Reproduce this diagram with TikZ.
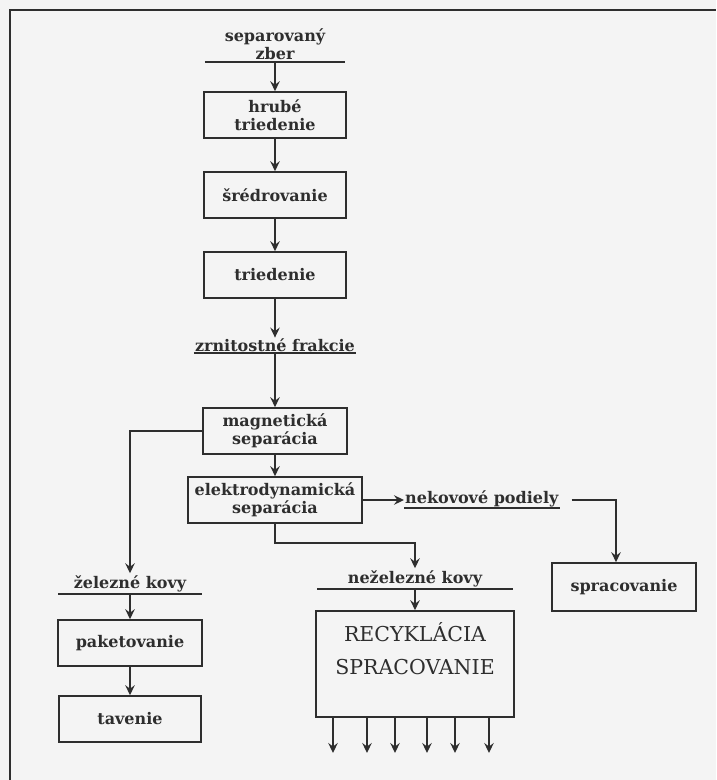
\documentclass[tikz,border=0pt]{standalone}
\usepackage{fontspec}
\setmainfont{DejaVu Serif}
\usetikzlibrary{arrows.meta, positioning}

\definecolor{ink}{HTML}{2E2E2E}
\definecolor{paper}{HTML}{F4F4F4}

\tikzset{
  flow/.style={draw=ink, line width=1.6pt},
  arr/.style={flow, -{Stealth[length=10pt, width=9.5pt, inset=3.5pt]}},
  box/.style={draw=ink, line width=1.6pt, text=ink, align=center,
    minimum width=142pt, minimum height=46pt, inner sep=2pt,
    font=\bfseries\fontsize{16}{18.5}\selectfont},
  word/.style={text=ink, align=center, inner sep=2pt,
    font=\bfseries\fontsize{16}{18.5}\selectfont},
  caps/.style={text=ink, align=center, inner sep=0pt,
    font=\fontsize{20.5}{33}\selectfont},
}

\begin{document}
\begin{tikzpicture}[x=1pt, y=-1pt]
\fill[paper] (0,0) rectangle (716,780);
\useasboundingbox (0,0) rectangle (716,780);
% frame
\draw[flow] (10,780) -- (10,10) -- (716,10);

% main column
\node[word, minimum width=140pt, anchor=south] (zber) at (275,62) {separovaný\\zber};
\draw[flow] (zber.south west) -- (zber.south east);
\node[box] (hrube) at (275,115) {hrubé\\triedenie};
\node[box] (sred) at (275,195) {šrédrovanie};
\node[box] (tried) at (275,275) {triedenie};
\node[word, inner sep=1pt, anchor=south] (frakcie) at (275,353) {zrnitostné frakcie};
\draw[flow] (frakcie.south west) -- (frakcie.south east);
\node[box, minimum width=144pt] (magn) at (275,431) {magnetická\\separácia};
\node[box, minimum width=174pt] (elektro) at (275,500) {elektrodynamická\\separácia};

\draw[arr] (zber.south) -- (hrube);
\draw[arr] (hrube) -- (sred);
\draw[arr] (sred) -- (tried);
\draw[arr] (tried) -- (frakcie);
\draw[arr] (frakcie.south) -- (magn);
\draw[arr] (magn) -- (elektro);

% ferrous branch
\node[word, minimum width=143pt, anchor=south] (zel) at (130,594) {železné kovy};
\draw[flow] (zel.south west) -- (zel.south east);
\node[box, minimum width=144pt] (paket) at (130,643) {paketovanie};
\node[box] (tav) at (130,719) {tavenie};
\draw[arr] (magn.west) -| (zel.north);
\draw[arr] (zel.south) -- (paket);
\draw[arr] (paket) -- (tav);

% non-metal branch
\node[word, inner sep=1pt, anchor=south west] (nekov) at (404,508) {nekovové podiely};
\draw[flow] (nekov.south west) -- (nekov.south east);
\node[box, minimum width=144pt, minimum height=48pt] (spr) at (624,587) {spracovanie};
\coordinate (turn) at (616,500);
\draw[arr] (elektro.east) -- (elektro.east -| nekov.west);
\draw[arr] ([xshift=12pt]nekov.east |- turn) -- (turn) -- (turn |- spr.north);

% non-ferrous branch
\node[word, minimum width=195pt, anchor=south] (nezel) at (415,589) {neželezné kovy};
\draw[flow] (nezel.south west) -- (nezel.south east);
\node[box, minimum width=198pt, minimum height=106pt] (recyk) at (415,664) {};
\node[caps, below=12pt of recyk.north] (recyktxt) {RECYKLÁCIA\\SPRACOVANIE};
\draw[arr] (elektro.south) -- ++(0,19) -| (nezel.north);
\draw[arr] (nezel.south) -- (recyk);

% outputs
\foreach \x [count=\i] in {333,367,395,427,455,489}{
  \coordinate (out\i) at (\x,753);
  \draw[arr] (recyk.south -| out\i) -- (out\i);
}
\end{tikzpicture}
\end{document}
